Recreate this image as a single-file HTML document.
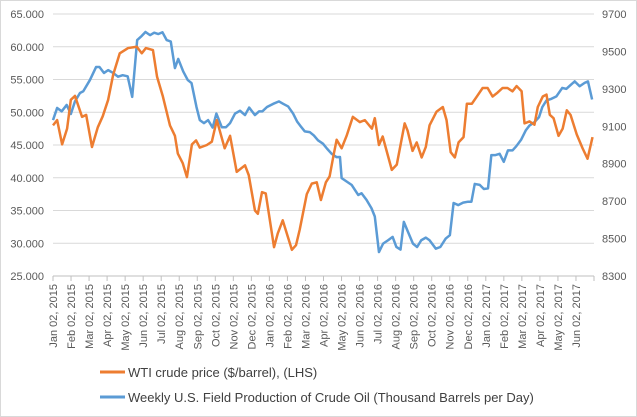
<!DOCTYPE html>
<html><head><meta charset="utf-8">
<style>
body{margin:0;background:#fff;}
svg{display:block;font-family:"Liberation Sans",sans-serif;}
</style></head>
<body>
<svg id="chart" width="637" height="417" viewBox="0 0 637 417">
<rect x="0.5" y="0.5" width="636" height="416" fill="#fff" stroke="#d9d9d9"/>
<g id="grid"></g><g id="ylab"></g><g id="y2lab"></g><g id="xlab"></g><g id="series"></g>
<g>
<line x1="100" y1="372" x2="125" y2="372" stroke="#ED7D31" stroke-width="3"/>
<text x="128" y="377" font-size="13" fill="#404040">WTI crude price ($/barrel), (LHS)</text>
<line x1="100" y1="397" x2="125" y2="397" stroke="#5B9BD5" stroke-width="3"/>
<text x="128" y="402" font-size="13" fill="#404040">Weekly U.S. Field Production of Crude Oil  (Thousand Barrels per Day)</text>
</g>
</svg>
<script>
const months=["Jan","Feb","Mar","Apr","May","Jun","Jul","Aug","Sep","Oct","Nov","Dec"];
const leftTicks=[25,30,35,40,45,50,55,60,65];
const rightTicks=[8300,8500,8700,8900,9100,9300,9500,9700];
const wtiWeeks=[0,1.0,2.2,3.4,4.3,5.3,7.0,8.0,9.4,10.8,12.0,13.3,14.5,16.1,18.1,20.2,21.4,22.4,24.1,25.1,26.5,28.2,29.4,30.1,31.3,32.3,33.5,34.5,35.4,37.1,38.3,39.5,41.4,42.7,44.3,46.3,47.2,48.7,49.4,50.4,51.3,53.3,54.2,55.4,57.6,58.6,59.5,61.2,62.4,63.6,64.6,65.8,66.7,67.7,68.4,69.6,70.8,72.3,74.0,75.2,76.9,77.6,78.6,79.5,81.7,82.9,84.8,85.5,86.7,87.7,88.9,89.9,90.8,92.5,94.0,94.9,95.9,96.9,97.8,99.0,99.8,101.0,102.2,103.6,104.8,106.0,107.2,108.4,109.6,110.8,111.8,113.0,113.7,114.9,116.1,116.9,118.1,119.0,119.8,120.7,121.9,122.9,123.9,124.8,126.3,127.7,128.9,130.1];
const wtiValues=[48.0,48.8,45.1,47.5,51.9,52.5,49.3,49.6,44.7,47.7,49.4,51.9,55.7,59.0,59.8,60.0,59.0,59.8,59.5,55.4,52.4,48.0,46.4,43.7,42.2,40.1,45.1,45.7,44.6,45.0,45.5,48.8,44.5,46.4,40.9,41.9,40.4,35.0,34.5,37.8,37.6,29.4,31.5,33.5,29.0,29.7,32.1,37.5,39.1,39.3,36.6,39.3,40.2,43.6,45.8,44.5,46.4,49.3,48.5,48.8,47.5,49.1,45.0,46.3,41.2,42.0,48.3,47.2,44.1,45.4,43.1,44.7,48.0,50.1,50.8,48.8,43.9,43.1,45.4,46.2,51.3,51.3,52.4,53.7,53.7,52.4,53.0,53.7,53.7,53.2,54.0,53.2,48.3,48.6,48.1,50.8,52.4,52.7,49.6,49.1,46.4,47.5,50.3,49.6,46.6,44.5,42.9,46.2];
const prodWeeks=[0,1.0,2.1,3.3,4.3,5.3,6.5,7.3,8.9,10.4,11.2,12.3,13.3,14.5,15.7,16.8,18.0,19.1,20.3,21.4,22.3,23.4,24.4,25.4,26.4,27.4,28.4,29.4,30.2,31.4,32.5,33.4,34.6,35.4,36.4,37.4,38.5,39.4,40.7,41.7,42.7,43.9,45.1,46.3,47.3,48.7,49.7,50.5,51.6,53.1,54.5,55.5,56.7,57.9,58.9,59.9,60.7,61.9,62.9,63.9,65.1,66.1,67.2,68.4,69.2,69.6,70.8,72.0,73.6,74.4,75.6,76.8,77.6,78.6,79.6,80.8,81.9,82.8,83.8,84.6,85.6,86.8,87.8,88.8,89.9,90.8,92.3,93.4,94.7,95.7,96.6,97.7,98.9,100.1,100.9,101.7,102.9,103.9,104.9,105.7,106.7,107.7,108.7,109.7,110.8,111.7,112.9,114.0,114.9,116.1,117.2,118.0,119.0,120.2,121.4,122.8,123.8,124.7,125.8,127.0,128.2,129.0,130.0];
const prodValues=[9133,9198,9180,9214,9166,9233,9278,9287,9347,9417,9417,9385,9400,9385,9365,9373,9367,9257,9561,9583,9604,9587,9600,9593,9602,9561,9553,9411,9460,9393,9347,9331,9203,9133,9117,9133,9093,9168,9095,9095,9117,9168,9183,9160,9200,9160,9180,9180,9203,9220,9233,9220,9206,9168,9124,9095,9073,9069,9051,9025,9007,8980,8953,8935,8936,8823,8805,8787,8733,8742,8707,8662,8618,8428,8473,8491,8509,8455,8441,8589,8536,8473,8455,8491,8505,8491,8446,8455,8500,8518,8690,8679,8692,8697,8697,8792,8787,8765,8768,8946,8946,8953,8910,8971,8971,8993,9029,9078,9104,9122,9149,9203,9238,9247,9260,9305,9300,9318,9340,9314,9332,9340,9243];

const NS="http://www.w3.org/2000/svg";
const X0=53,X1=594,YT=14,YB=276,NMONTH=30;
const xWeek=w=>X0+w*(X1-X0)/(NMONTH*30.44/7);
const xMonth=m=>X0+m*(X1-X0)/NMONTH;
const yL=v=>YB-(v-25)/(65-25)*(YB-YT);
const yR=v=>YB-(v-8300)/(9700-8300)*(YB-YT);
function mk(tag,attrs,parent){const e=document.createElementNS(NS,tag);for(const k in attrs)e.setAttribute(k,attrs[k]);parent.appendChild(e);return e;}
const grid=document.getElementById('grid'),ylab=document.getElementById('ylab'),y2lab=document.getElementById('y2lab'),xlab=document.getElementById('xlab'),series=document.getElementById('series');
leftTicks.forEach(t=>{
  const y=yL(t);
  if(t>25){const g=mk('line',{x1:X0,x2:X1,y1:y,y2:y,stroke:'#d9d9d9','stroke-width':1},grid);
  
  }
  const tx=mk('text',{x:44,y:y+4,'text-anchor':'end','font-size':11,fill:'#595959'},ylab);
  tx.textContent=t.toFixed(3);
  
  
});
rightTicks.forEach(t=>{
  const tx=mk('text',{x:602,y:yR(t)+4,'font-size':11,fill:'#595959'},y2lab);
  tx.textContent=t;
  
  
});
const ax=mk('line',{x1:X0,x2:X1,y1:YB,y2:YB,stroke:'#bfbfbf'},grid);


for(let i=0;i<=NMONTH;i++){
  const x=xMonth(i);
  const tk=mk('line',{x1:x,x2:x,y1:YB,y2:YB+5,stroke:'#bfbfbf'},grid);
  
  
  if(i<NMONTH){
    const m=i%12,yr=2015+Math.floor(i/12);
    const tx=mk('text',{transform:`translate(${x+4},${YB+8}) rotate(-90)`,'text-anchor':'end','font-size':11,fill:'#595959'},xlab);
    tx.textContent=`${months[m]} 02, ${yr}`;
    
    
  }
}
const pb=mk('polyline',{fill:'none',stroke:'#5B9BD5','stroke-width':2.5,'stroke-linejoin':'round',points:prodWeeks.map((w,i)=>xWeek(w)+','+yR(prodValues[i])).join(' ')},series);


const po=mk('polyline',{fill:'none',stroke:'#ED7D31','stroke-width':2.5,'stroke-linejoin':'round',points:wtiWeeks.map((w,i)=>xWeek(w)+','+yL(wtiValues[i])).join(' ')},series);


</script>
</body></html>
